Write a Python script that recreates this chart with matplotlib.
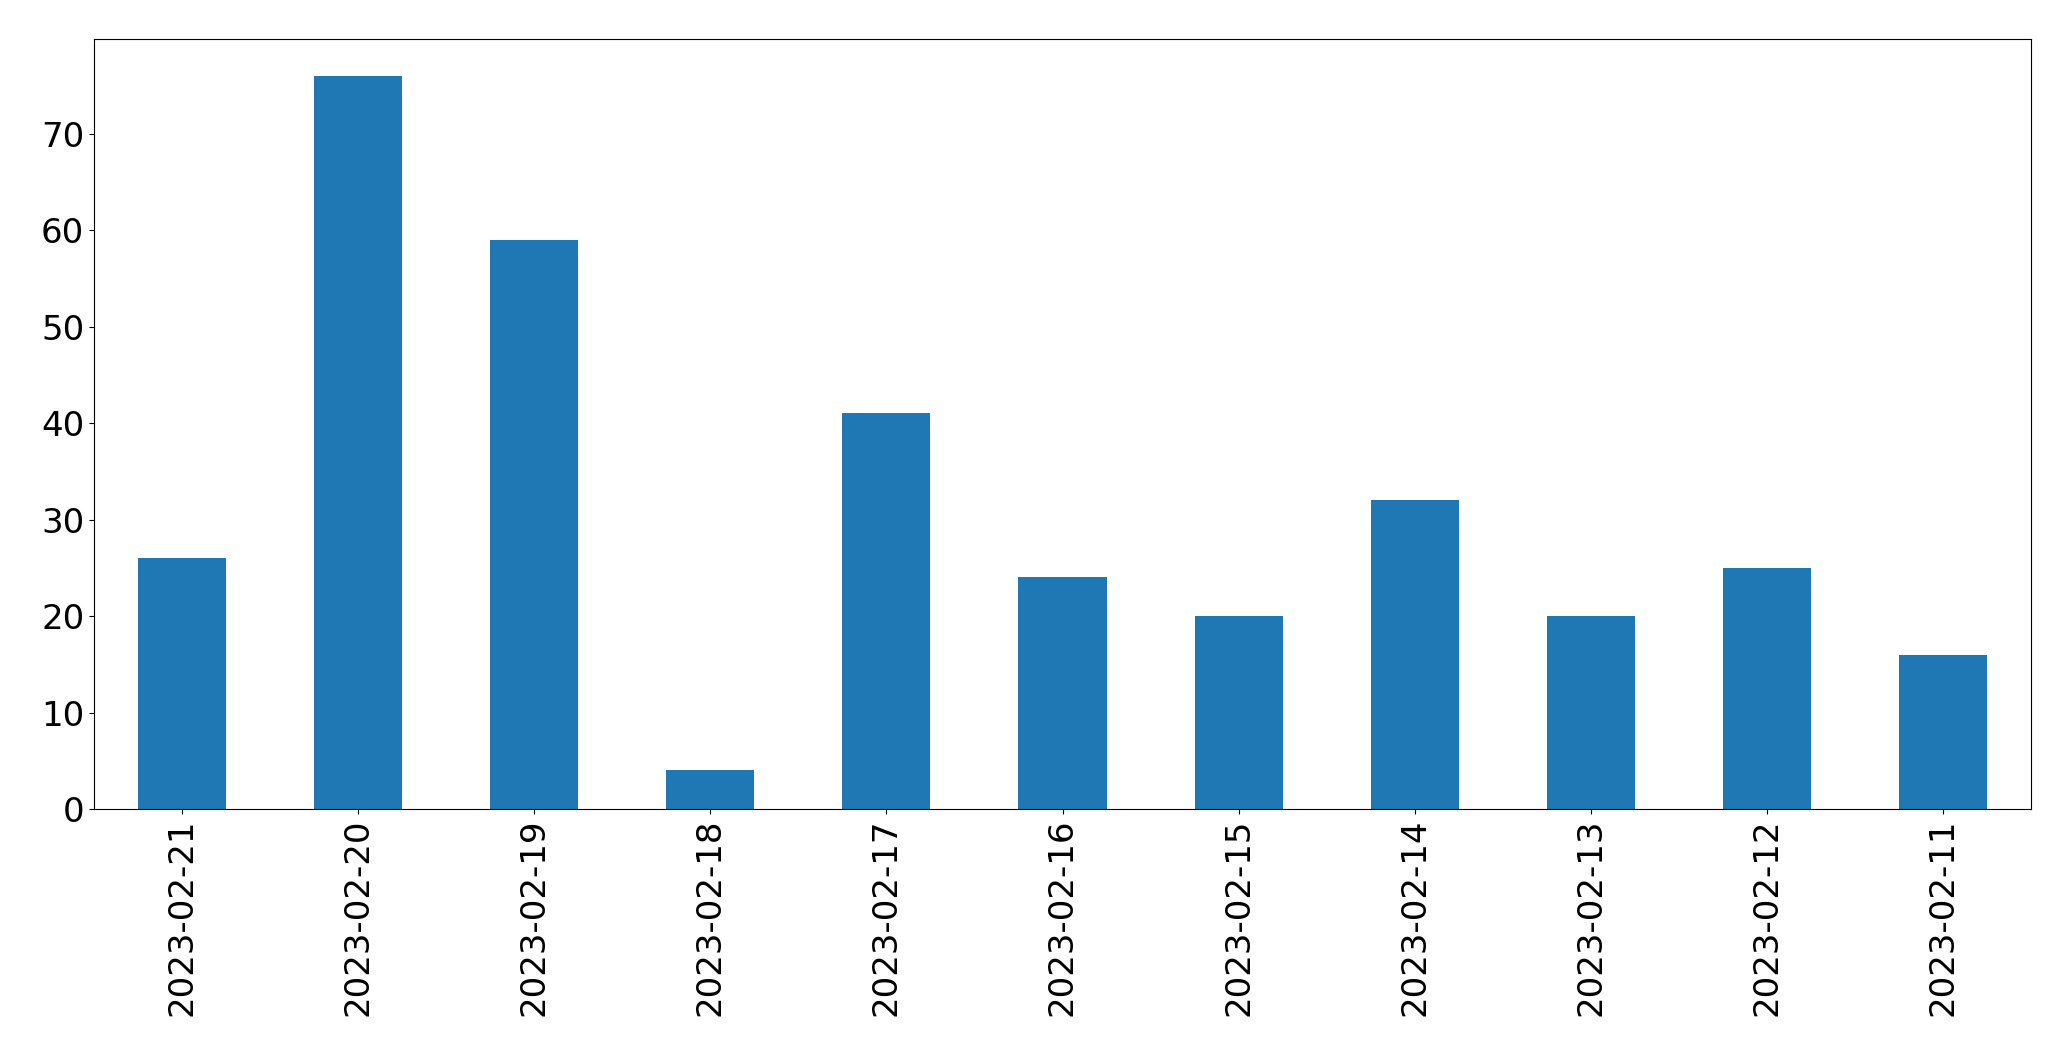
import pandas as pd
import matplotlib
matplotlib.use("Agg")
import matplotlib.pyplot as plt

dates = ["2023-02-21", "2023-02-20", "2023-02-19", "2023-02-18", "2023-02-17",
         "2023-02-16", "2023-02-15", "2023-02-14", "2023-02-13", "2023-02-12",
         "2023-02-11"]
counts = [26, 76, 59, 4, 41, 24, 20, 32, 20, 25, 16]

s = pd.Series(counts, index=dates)

fig, ax = plt.subplots(figsize=(20.71, 10.61), dpi=100)
s.plot(kind="bar", ax=ax, color="#1f77b4")
ax.tick_params(axis="both", labelsize=24.5)
fig.subplots_adjust(left=94/2071, right=2031/2071, top=1-39/1061, bottom=1-809/1061)
fig.savefig("out.png", dpi=100)
